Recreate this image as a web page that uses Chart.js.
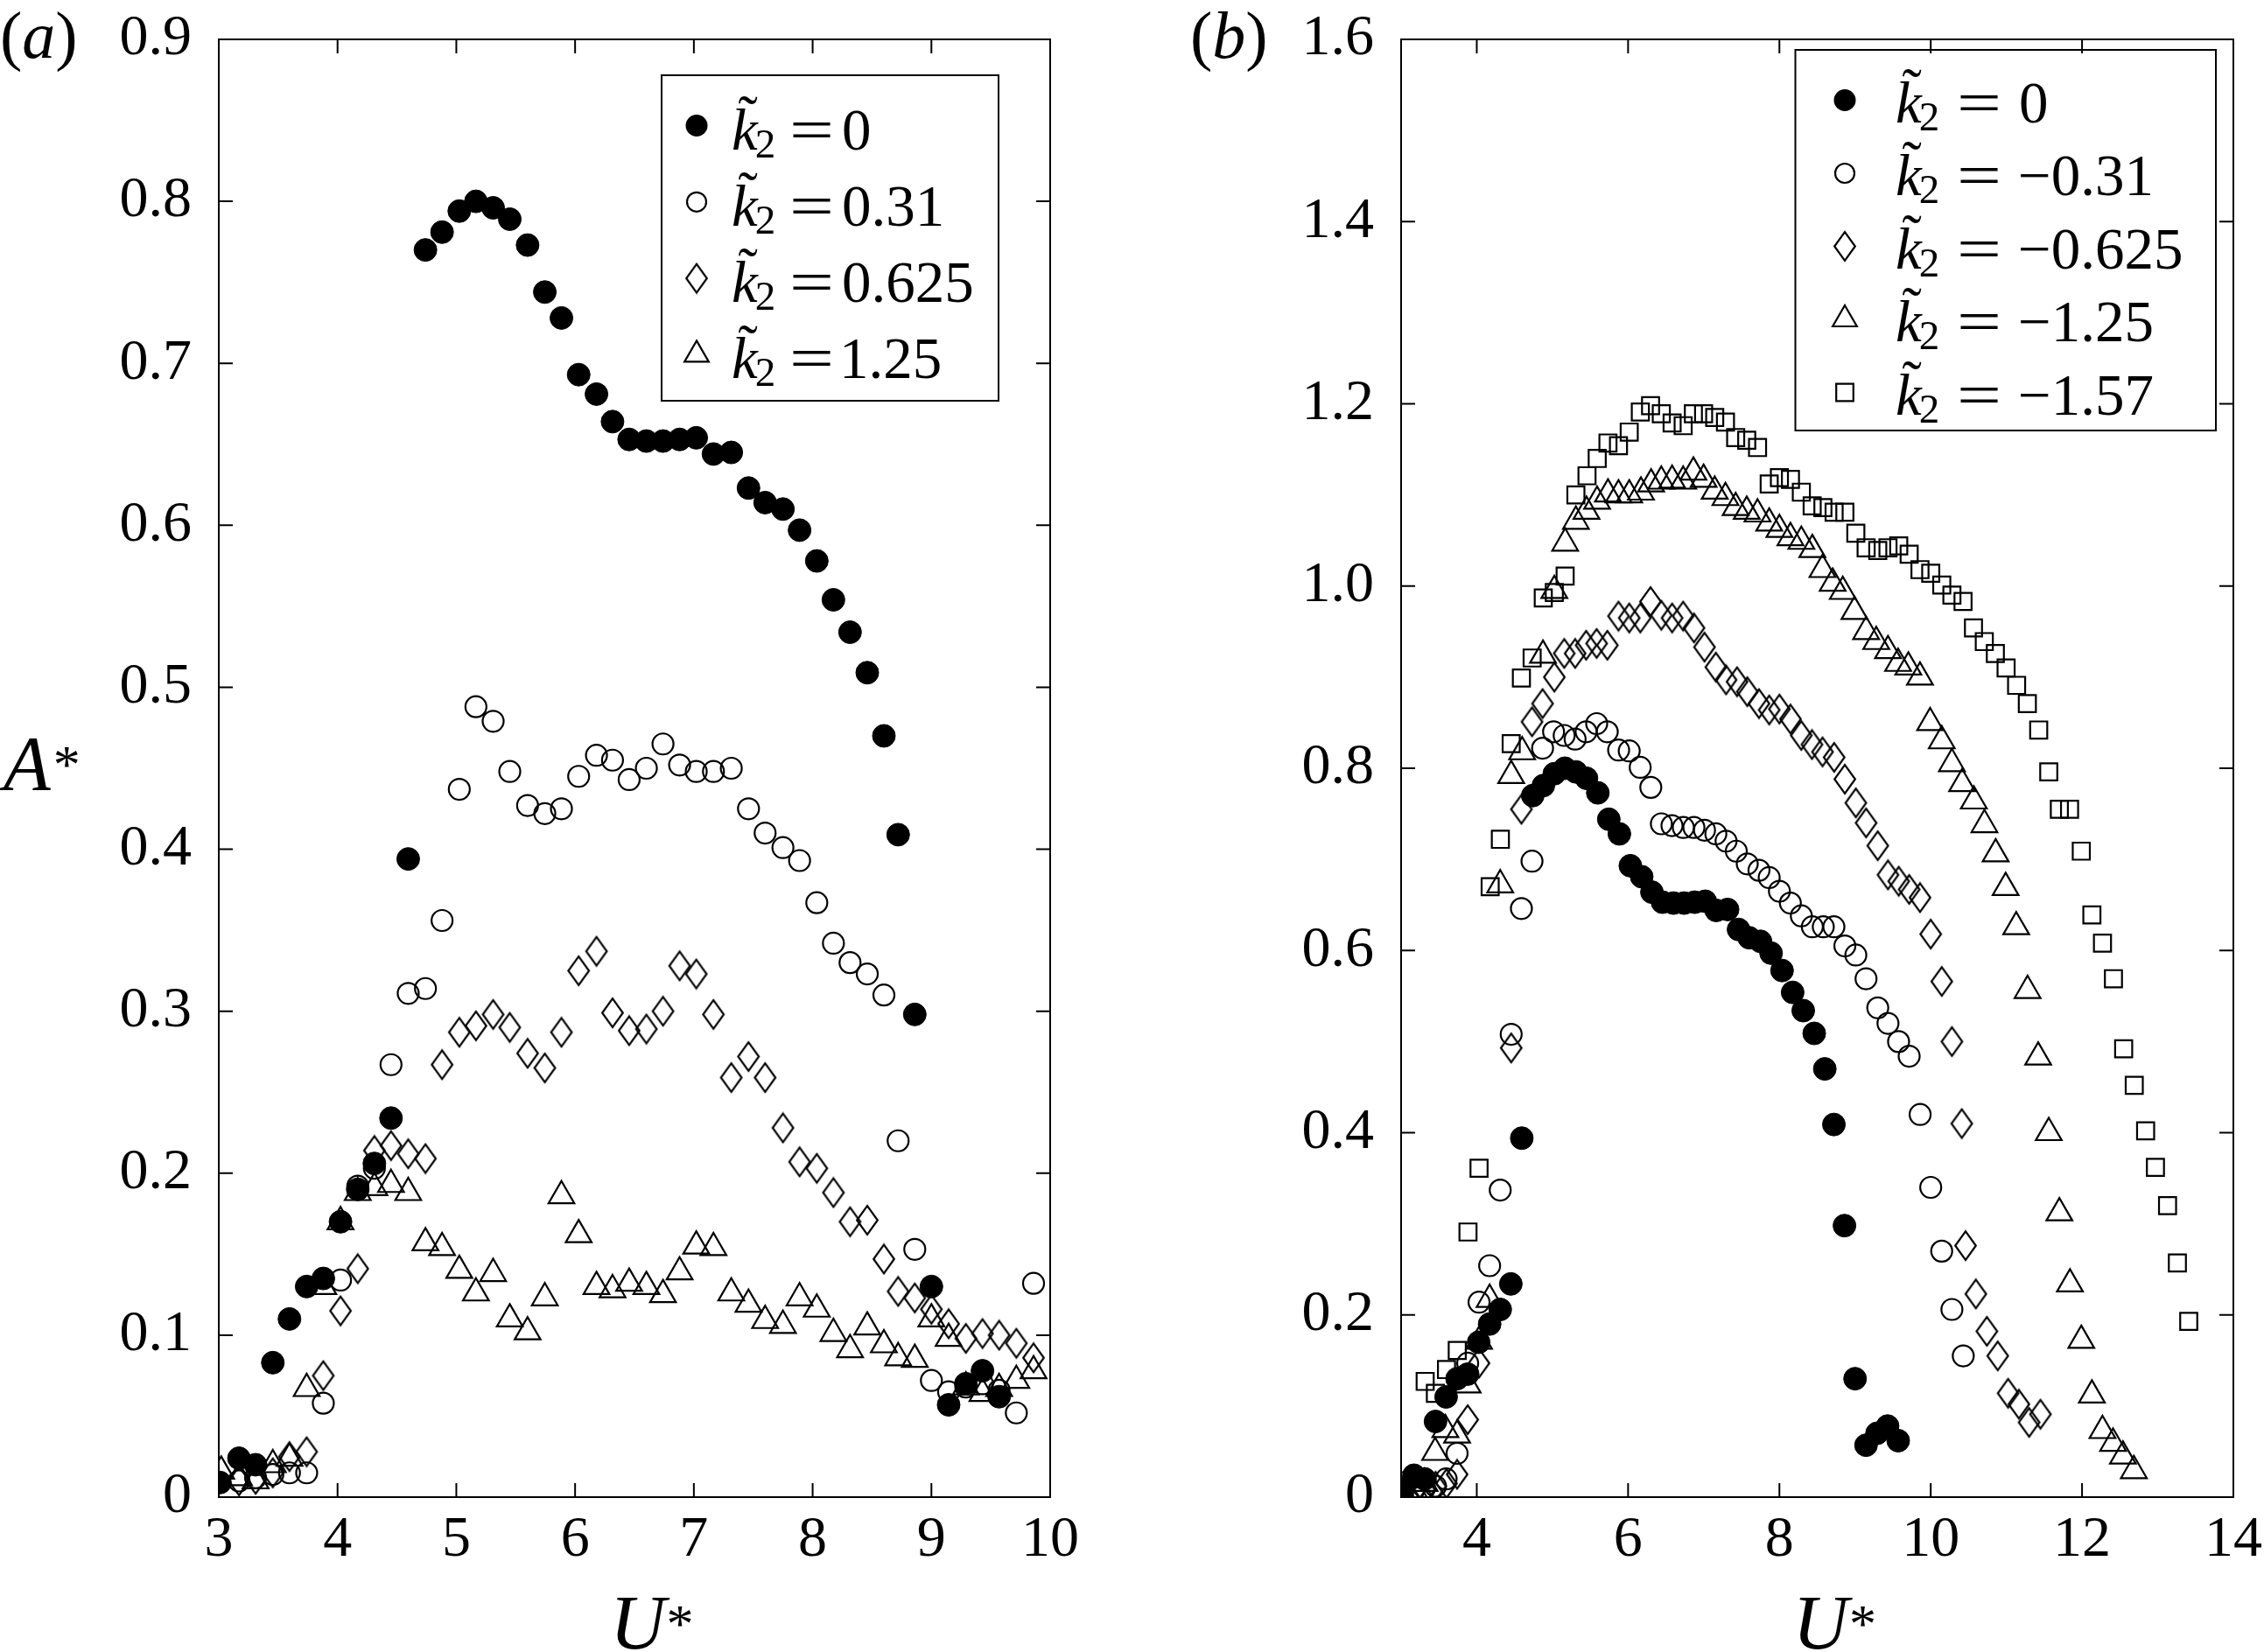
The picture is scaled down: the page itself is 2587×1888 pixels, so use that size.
<!DOCTYPE html>
<html><head><meta charset="utf-8">
<script src="https://cdn.jsdelivr.net/npm/chart.js@4.4.1/dist/chart.umd.min.js"></script>
<style>
html,body{margin:0;padding:0;background:#fff;width:2587px;height:1888px;overflow:hidden}
canvas{position:absolute;top:0}
#ca{left:0}
#cb{left:1300px}
</style></head><body>
<canvas id="ca" width="1300" height="1888" style="width:1300px;height:1888px"></canvas>
<canvas id="cb" width="1287" height="1888" style="width:1287px;height:1888px"></canvas>
<script>
// ---------- data: panel (a) ----------
const uK0 = [3.01,3.17,3.31,3.455,3.595,3.74,3.88,4.025,4.17,4.31,4.45,4.595,4.74,4.88,5.025,5.165,5.31,5.45,5.6,5.745,5.885,6.03,6.18,6.315,6.455,6.6,6.74,6.88,7.02,7.165,7.315,7.46,7.6,7.75,7.89,8.035,8.175,8.315,8.46,8.6,8.72,8.86,9.0,9.145,9.29,9.43,9.57];
const aK0 = [0.009,0.024,0.02,0.083,0.11,0.13,0.135,0.17,0.19,0.206,0.234,0.394,0.77,0.781,0.794,0.8,0.796,0.789,0.773,0.744,0.728,0.693,0.681,0.664,0.653,0.652,0.652,0.653,0.654,0.644,0.645,0.623,0.614,0.61,0.597,0.578,0.554,0.534,0.509,0.47,0.409,0.298,0.13,0.057,0.07,0.078,0.062];

const uP031 = [3.17,3.31,3.455,3.595,3.74,3.88,4.025,4.17,4.31,4.45,4.595,4.74,4.88,5.025,5.165,5.31,5.45,5.6,5.745,5.885,6.03,6.18,6.315,6.455,6.6,6.74,6.88,7.02,7.165,7.315,7.46,7.6,7.75,7.89,8.035,8.175,8.315,8.46,8.6,8.72,8.86,9.0,9.145,9.29,9.43,9.57,9.715,9.86];
const aP031 = [0.01,0.012,0.014,0.015,0.015,0.058,0.134,0.192,0.203,0.267,0.311,0.314,0.356,0.437,0.488,0.479,0.448,0.427,0.422,0.425,0.445,0.458,0.455,0.443,0.45,0.465,0.452,0.448,0.448,0.45,0.425,0.41,0.401,0.393,0.367,0.342,0.33,0.323,0.31,0.22,0.153,0.072,0.065,0.068,0.07,0.066,0.052,0.132];

const uP0625 = [3.17,3.31,3.455,3.595,3.74,3.88,4.025,4.17,4.31,4.45,4.595,4.74,4.88,5.025,5.165,5.31,5.45,5.6,5.745,5.885,6.03,6.18,6.315,6.455,6.6,6.74,6.88,7.02,7.165,7.315,7.46,7.6,7.75,7.89,8.035,8.175,8.315,8.46,8.6,8.72,8.86,9.0,9.145,9.29,9.43,9.57,9.715,9.86];
const aP0625 = [0.01,0.011,0.015,0.025,0.028,0.075,0.115,0.141,0.214,0.217,0.212,0.209,0.267,0.287,0.291,0.298,0.29,0.274,0.265,0.287,0.325,0.337,0.299,0.288,0.289,0.3,0.328,0.323,0.298,0.259,0.272,0.259,0.228,0.207,0.203,0.188,0.17,0.171,0.147,0.127,0.123,0.116,0.107,0.098,0.101,0.1,0.095,0.086];

const uP125 = [3.02,3.17,3.31,3.455,3.595,3.74,3.88,4.025,4.17,4.31,4.45,4.595,4.74,4.88,5.025,5.165,5.31,5.45,5.6,5.745,5.885,6.03,6.18,6.315,6.455,6.6,6.74,6.88,7.02,7.165,7.315,7.46,7.6,7.75,7.89,8.035,8.175,8.315,8.46,8.6,8.72,8.86,9.0,9.145,9.29,9.43,9.57,9.715,9.86];
const aP125 = [0.016,0.012,0.01,0.02,0.024,0.067,0.13,0.17,0.188,0.191,0.193,0.188,0.157,0.154,0.14,0.126,0.138,0.11,0.102,0.123,0.186,0.162,0.13,0.128,0.132,0.13,0.125,0.139,0.155,0.154,0.126,0.119,0.109,0.106,0.123,0.116,0.101,0.091,0.105,0.094,0.086,0.085,0.11,0.098,0.068,0.064,0.067,0.072,0.078];

// ---------- data: panel (b) (k2 = 0 is the same series as in (a)) ----------
const uM031 = [3.02,3.17,3.31,3.455,3.595,3.74,3.88,4.03,4.17,4.31,4.455,4.59,4.73,4.87,5.015,5.155,5.3,5.445,5.585,5.725,5.875,6.015,6.16,6.3,6.44,6.58,6.73,6.87,7.01,7.16,7.295,7.43,7.575,7.73,7.865,8.0,8.145,8.29,8.435,8.58,8.72,8.865,9.01,9.145,9.3,9.435,9.575,9.715,9.86,10.0,10.145,10.28,10.43];
const aM031 = [0.005,0.008,0.01,0.012,0.02,0.048,0.147,0.214,0.254,0.337,0.508,0.646,0.698,0.822,0.84,0.836,0.832,0.84,0.849,0.84,0.82,0.819,0.801,0.779,0.739,0.737,0.735,0.735,0.732,0.728,0.72,0.709,0.695,0.688,0.68,0.665,0.652,0.638,0.626,0.626,0.626,0.605,0.595,0.569,0.537,0.52,0.5,0.484,0.42,0.34,0.27,0.206,0.155];

const uM0625 = [3.02,3.17,3.31,3.455,3.6,3.74,3.88,4.03,4.455,4.59,4.73,4.87,5.025,5.156,5.3,5.445,5.584,5.726,5.873,6.015,6.162,6.297,6.439,6.582,6.728,6.871,7.01,7.16,7.295,7.44,7.576,7.73,7.865,8.0,8.146,8.289,8.43,8.57,8.723,8.865,9.01,9.146,9.3,9.435,9.577,9.715,9.858,10.0,10.146,10.28,10.41,10.46,10.596,10.742,10.885,11.023,11.165,11.3,11.45];
const aM0625 = [0.004,0.006,0.008,0.012,0.015,0.025,0.085,0.147,0.493,0.755,0.851,0.871,0.9,0.926,0.926,0.935,0.937,0.935,0.967,0.965,0.965,0.983,0.968,0.965,0.967,0.954,0.933,0.911,0.897,0.895,0.884,0.871,0.864,0.865,0.854,0.836,0.826,0.818,0.812,0.788,0.762,0.74,0.715,0.683,0.676,0.667,0.658,0.618,0.566,0.5,0.41,0.276,0.223,0.182,0.155,0.114,0.102,0.082,0.091];

const uM125 = [3.02,3.17,3.31,3.45,3.585,3.74,3.88,4.03,4.17,4.31,4.455,4.6,4.875,5.025,5.168,5.31,5.45,5.59,5.734,5.873,6.015,6.17,6.304,6.439,6.582,6.728,6.863,6.998,7.145,7.287,7.422,7.568,7.711,7.865,8.0,8.146,8.29,8.435,8.569,8.704,8.838,8.992,9.146,9.28,9.435,9.569,9.704,9.858,9.992,10.146,10.28,10.415,10.57,10.71,10.858,10.99,11.13,11.28,11.42,11.56,11.7,11.84,11.99,12.13,12.27,12.41,12.54,12.685];
const aM125 = [0.005,0.008,0.015,0.049,0.074,0.068,0.123,0.171,0.217,0.672,0.792,0.818,0.924,0.995,1.047,1.071,1.082,1.093,1.101,1.1,1.1,1.103,1.112,1.115,1.116,1.115,1.125,1.117,1.104,1.097,1.086,1.082,1.079,1.069,1.062,1.053,1.049,1.04,1.018,1.003,0.994,0.972,0.95,0.939,0.929,0.915,0.911,0.9,0.85,0.83,0.805,0.783,0.764,0.738,0.706,0.669,0.626,0.556,0.483,0.4,0.312,0.234,0.172,0.112,0.073,0.059,0.045,0.029];

const uM157 = [3.03,3.17,3.318,3.453,3.6,3.742,3.884,4.03,4.177,4.312,4.455,4.59,4.732,4.879,5.025,5.168,5.31,5.457,5.592,5.734,5.873,6.015,6.162,6.297,6.439,6.582,6.728,6.863,6.998,7.145,7.287,7.422,7.568,7.711,7.865,8.0,8.146,8.29,8.433,8.575,8.723,8.865,9.01,9.146,9.3,9.435,9.577,9.715,9.858,10.0,10.146,10.28,10.427,10.565,10.708,10.854,10.996,11.135,11.277,11.427,11.56,11.7,11.835,11.99,12.13,12.27,12.415,12.55,12.69,12.84,12.97,13.13,13.26,13.41];
const aM157 = [0.018,0.02,0.127,0.114,0.14,0.161,0.291,0.361,0.67,0.722,0.827,0.899,0.921,0.987,0.993,1.011,1.1,1.121,1.14,1.157,1.154,1.169,1.191,1.198,1.189,1.179,1.176,1.189,1.189,1.185,1.18,1.163,1.16,1.152,1.112,1.119,1.117,1.103,1.088,1.086,1.081,1.081,1.058,1.042,1.039,1.042,1.044,1.035,1.018,1.014,1.001,0.99,0.983,0.954,0.939,0.926,0.91,0.891,0.871,0.842,0.796,0.755,0.755,0.709,0.639,0.608,0.569,0.492,0.452,0.402,0.362,0.32,0.257,0.193];

// ---------- ticks & labels ----------
const xTicksA = [3,4,5,6,7,8,9,10];
const yTicksA = [0,0.1,0.2,0.3,0.4,0.5,0.6,0.7,0.8,0.9];
const xTicksB = [4,6,8,10,12,14];
const yTicksB = [0,0.2,0.4,0.6,0.8,1.0,1.2,1.4,1.6];
const legendValsA = ['0','0.31','0.625','1.25'];
const legendValsB = ['0','\u22120.31','\u22120.625','\u22121.25','\u22121.57'];

// ---------- styling ----------
const FONT = '"Liberation Serif","Times New Roman",serif';
const TICK_PX = 66, LEG_PX = 67, TITLE_PX = 88, PANEL_PX = 76;

function zip(u, a) { return u.map((x, i) => ({x: x, y: a[i]})); }

function lozenge(w, h, lw) {
  const c = document.createElement('canvas');
  c.width = Math.round(w + 2 * lw); c.height = Math.round(h + 2 * lw);
  const g = c.getContext('2d');
  g.strokeStyle = '#000'; g.lineWidth = lw; g.lineJoin = 'miter';
  g.beginPath();
  g.moveTo(c.width / 2, lw); g.lineTo(c.width - lw, c.height / 2);
  g.lineTo(c.width / 2, c.height - lw); g.lineTo(lw, c.height / 2);
  g.closePath(); g.stroke();
  return c;
}
const DIAMOND = lozenge(24, 33, 2.2);

const STY = {
  filled:   {pointStyle: 'circle', pointRadius: 13, backgroundColor: '#000', borderColor: '#000', pointBorderWidth: 1},
  circle:   {pointStyle: 'circle', pointRadius: 12, backgroundColor: 'rgba(0,0,0,0)', borderColor: '#000', pointBorderWidth: 2.2},
  diamond:  {pointStyle: DIAMOND, pointRadius: 14, backgroundColor: 'rgba(0,0,0,0)', borderColor: '#000', pointBorderWidth: 2.2},
  triangle: {pointStyle: 'triangle', pointRadius: 17, backgroundColor: 'rgba(0,0,0,0)', borderColor: '#000', pointBorderWidth: 2.2},
  square:   {pointStyle: 'rect', pointRadius: 13.8, backgroundColor: 'rgba(0,0,0,0)', borderColor: '#000', pointBorderWidth: 2.2}
};
function ds(label, u, a, kind) {
  return Object.assign({label: label, data: zip(u, a), showLine: false, pointHoverRadius: 0}, STY[kind]);
}

function drawMarker(ctx, kind, x, y) {
  ctx.save();
  ctx.strokeStyle = '#000'; ctx.fillStyle = '#000'; ctx.lineWidth = 2.2;
  ctx.beginPath();
  if (kind === 'filled') { ctx.arc(x, y, 12.5, 0, Math.PI * 2); ctx.fill(); }
  else if (kind === 'circle') { ctx.arc(x, y, 11, 0, Math.PI * 2); ctx.stroke(); }
  else if (kind === 'diamond') { ctx.drawImage(DIAMOND, x - DIAMOND.width / 2, y - DIAMOND.height / 2); }
  else if (kind === 'triangle') {
    const r = 16;
    for (let k = 0; k < 3; k++) {
      const ang = k * 2 * Math.PI / 3;
      const px = x + Math.sin(ang) * r, py = y - Math.cos(ang) * r;
      if (k === 0) ctx.moveTo(px, py); else ctx.lineTo(px, py);
    }
    ctx.closePath(); ctx.stroke();
  } else if (kind === 'square') { ctx.rect(x - 9.8, y - 9.8, 19.6, 19.6); ctx.stroke(); }
  ctx.restore();
}

function runs(ctx, x, y, parts) {
  parts.forEach(p => {
    ctx.font = p.f;
    ctx.fillText(p.t, x + (p.dx || 0), y + (p.dy || 0));
    x += ctx.measureText(p.t).width + (p.dx || 0);
  });
  return x;
}

function drawLegend(ctx, L, vals) {
  ctx.save();
  ctx.strokeStyle = '#000'; ctx.lineWidth = 2;
  ctx.strokeRect(L.x0, L.y0, L.x1 - L.x0, L.y1 - L.y0);
  ctx.fillStyle = '#000'; ctx.textAlign = 'left'; ctx.textBaseline = 'alphabetic';
  vals.forEach((v, i) => {
    const b = L.base0 + i * L.step;
    drawMarker(ctx, L.kinds[i], L.mx, b - L.moff);
    ctx.font = 'italic ' + LEG_PX + 'px ' + FONT;
    const km = ctx.measureText('k');
    ctx.fillText('k', L.kx, b);
    ctx.font = LEG_PX + 'px ' + FONT;
    const tm = ctx.measureText('\u02DC');
    const tcx = L.kx + km.width * 0.62;
    const tcy = b - LEG_PX * 0.84;
    const tw = tm.actualBoundingBoxRight - tm.actualBoundingBoxLeft;
    ctx.fillText('\u02DC', tcx - tm.actualBoundingBoxRight + tw / 2, tcy + (tm.actualBoundingBoxAscent - tm.actualBoundingBoxDescent) / 2);
    ctx.font = Math.round(LEG_PX * 0.7) + 'px ' + FONT;
    ctx.fillText('2', L.kx + km.width - 3, b + 9);
    ctx.font = LEG_PX + 'px ' + FONT;
    const em = ctx.measureText('=');
    ctx.save();
    ctx.translate(L.ex, b);
    ctx.scale(1.35, 1);
    ctx.fillText('=', em.actualBoundingBoxLeft, 0);
    ctx.restore();
    const vm = ctx.measureText(v);
    ctx.fillText(v, L.vx + vm.actualBoundingBoxLeft, b);
  });
  ctx.restore();
}

function makeDeco(id, cfg) {
  return {
    id: id,
    afterDraw(chart) {
      const ctx = chart.ctx, a = chart.chartArea;
      const xs = chart.scales.x, ys = chart.scales.y;
      ctx.save();
      ctx.strokeStyle = '#000'; ctx.lineWidth = 2;
      ctx.strokeRect(a.left, a.top, a.right - a.left, a.bottom - a.top);
      ctx.beginPath();
      cfg.xt.forEach(v => {
        const p = xs.getPixelForValue(v);
        ctx.moveTo(p, a.bottom); ctx.lineTo(p, a.bottom - 16);
        ctx.moveTo(p, a.top); ctx.lineTo(p, a.top + 16);
      });
      cfg.yt.forEach(v => {
        const p = ys.getPixelForValue(v);
        ctx.moveTo(a.left, p); ctx.lineTo(a.left + 16, p);
        ctx.moveTo(a.right, p); ctx.lineTo(a.right - 16, p);
      });
      ctx.stroke();
      ctx.fillStyle = '#000'; ctx.textAlign = 'left'; ctx.textBaseline = 'alphabetic';
      runs(ctx, cfg.tagX, 66, [
        {t: '(', f: PANEL_PX + 'px ' + FONT},
        {t: cfg.tag, f: 'italic ' + PANEL_PX + 'px ' + FONT},
        {t: ')', f: PANEL_PX + 'px ' + FONT}
      ]);
      const cx = (a.left + a.right) / 2;
      runs(ctx, cx - 28, 1884, [
        {t: 'U', f: 'italic ' + TITLE_PX + 'px ' + FONT},
        {t: '*', f: '62px ' + FONT, dy: -8, dx: 1}
      ]);
      if (cfg.ytitle) {
        runs(ctx, 4, 902, [
          {t: 'A', f: 'italic ' + TITLE_PX + 'px ' + FONT},
          {t: '*', f: '62px ' + FONT, dy: -8, dx: 3}
        ]);
      }
      drawLegend(ctx, cfg.legend, cfg.vals);
      ctx.restore();
    }
  };
}

function fmtY(v) { return v === 0 ? '0' : Number(v).toFixed(1); }
function noPad(s) { s.paddingTop = 0; s.paddingBottom = 0; s.paddingLeft = 0; s.paddingRight = 0; }

function makeChart(el, datasets, xr, yr, xt, yt, area) {
  const tickFont = {family: FONT, size: TICK_PX};
  const W = el.width, H = el.height;
  const ch = new Chart(el, {
    type: 'scatter',
    data: {datasets: datasets},
    options: {
      responsive: false, animation: false, events: [],
      devicePixelRatio: 1,
      layout: {padding: {left: 0, right: W - area.right, top: area.top, bottom: 0}},
      plugins: {legend: {display: false}, tooltip: {enabled: false}},
      scales: {
        x: {
          type: 'linear', min: xr[0], max: xr[1],
          afterBuildTicks: s => { s.ticks = xt.map(v => ({value: v})); },
          ticks: {font: tickFont, color: '#000', padding: 10, maxRotation: 0, minRotation: 0, autoSkip: false, callback: v => String(v)},
          grid: {display: false, drawTicks: false}, border: {display: false},
          afterFit: s => { s.height = H - area.bottom; noPad(s); }
        },
        y: {
          type: 'linear', min: yr[0], max: yr[1],
          afterBuildTicks: s => { s.ticks = yt.map(v => ({value: v})); },
          ticks: {font: tickFont, color: '#000', padding: 31, autoSkip: false, callback: v => fmtY(v)},
          grid: {display: false, drawTicks: false}, border: {display: false},
          afterFit: s => { s.width = area.left; noPad(s); }
        }
      }
    },
    plugins: [cfgPlugin(area)]
  });
  // correct any residual offset of the plot area
  const ca = ch.chartArea, p = ch.options.layout.padding;
  const dT = ca.top - area.top, dB = ca.bottom - area.bottom, dR = ca.right - area.right;
  if (Math.abs(dT) > 0.5 || Math.abs(dB) > 0.5 || Math.abs(dR) > 0.5) {
    p.top = p.top - dT; p.bottom = (p.bottom || 0) + dB; p.right = p.right + dR;
    ch.update();
  }
  return ch;
}
let currentDeco = null;
function cfgPlugin() { return currentDeco; }

// ----- panel (a)
currentDeco = makeDeco('decoA', {
  xt: xTicksA, yt: yTicksA, tag: 'a', tagX: 0, ytitle: true, vals: legendValsA,
  legend: {x0: 756, y0: 86, x1: 1141, y1: 458, base0: 170.5, step: 87.3, moff: 27,
           mx: 796, kx: 836, ex: 906, vx: 964, kinds: ['filled', 'circle', 'diamond', 'triangle']}
});
makeChart(document.getElementById('ca'), [
  ds('k2 = 0', uK0, aK0, 'filled'),
  ds('k2 = 0.31', uP031, aP031, 'circle'),
  ds('k2 = 0.625', uP0625, aP0625, 'diamond'),
  ds('k2 = 1.25', uP125, aP125, 'triangle')
], [3, 10], [0, 0.9], xTicksA, yTicksA, {left: 250, right: 1200, top: 45, bottom: 1711});

// ----- panel (b)
currentDeco = makeDeco('decoB', {
  xt: xTicksB, yt: yTicksB, tag: 'b', tagX: 60, ytitle: false, vals: legendValsB,
  legend: {x0: 751.5, y0: 57, x1: 1232, y1: 492, base0: 139.5, step: 83.5, moff: 25,
           mx: 808, kx: 866, ex: 940, vx: 1009, kinds: ['filled', 'circle', 'diamond', 'triangle', 'square']}
});
makeChart(document.getElementById('cb'), [
  ds('k2 = 0', uK0, aK0, 'filled'),
  ds('k2 = -0.31', uM031, aM031, 'circle'),
  ds('k2 = -0.625', uM0625, aM0625, 'diamond'),
  ds('k2 = -1.25', uM125, aM125, 'triangle'),
  ds('k2 = -1.57', uM157, aM157, 'square')
], [3, 14], [0, 1.6], xTicksB, yTicksB, {left: 301, right: 1252, top: 45, bottom: 1711});
</script>
</body></html>
